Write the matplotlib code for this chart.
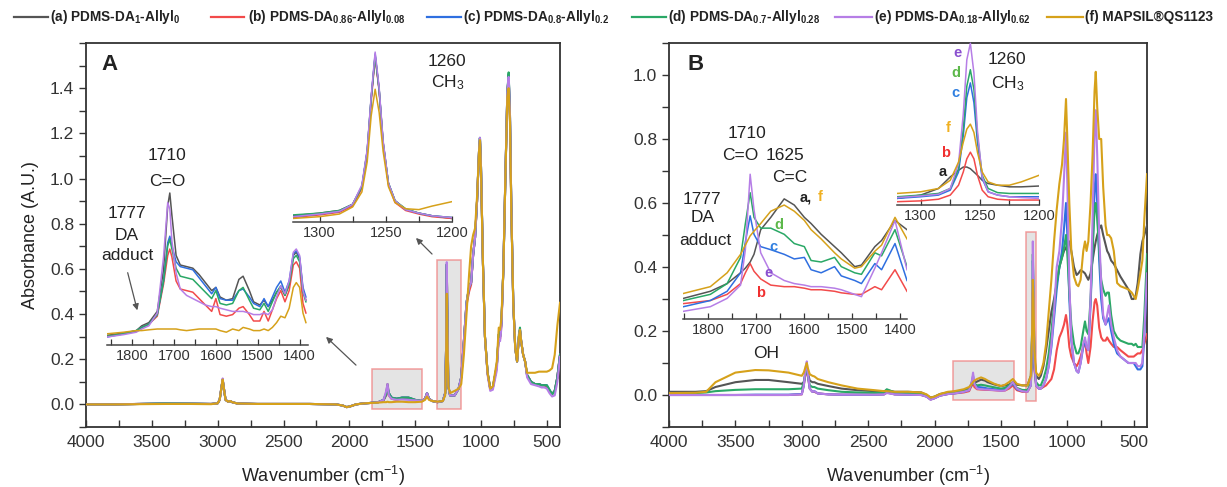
import matplotlib
matplotlib.use('Agg')
import matplotlib.pyplot as plt
from matplotlib.lines import Line2D
from matplotlib.patches import Rectangle
from matplotlib.ticker import MultipleLocator

plt.rcParams['font.family'] = ['Liberation Sans', 'DejaVu Sans']
plt.rcParams['mathtext.fontset'] = 'custom'
plt.rcParams['mathtext.rm'] = 'Liberation Sans'
plt.rcParams['mathtext.it'] = 'Liberation Sans:italic'
plt.rcParams['mathtext.bf'] = 'Liberation Sans:bold'

# ---------------- legend / series ----------------
series_labels = [r'(a) PDMS-DA$_\mathbf{1}$-Allyl$_\mathbf{0}$',
                 r'(b) PDMS-DA$_\mathbf{0.86}$-Allyl$_\mathbf{0.08}$',
                 r'(c) PDMS-DA$_\mathbf{0.8}$-Allyl$_\mathbf{0.2}$',
                 r'(d) PDMS-DA$_\mathbf{0.7}$-Allyl$_\mathbf{0.28}$',
                 r'(e) PDMS-DA$_\mathbf{0.18}$-Allyl$_\mathbf{0.62}$',
                 r'(f) MAPSIL®QS1123']
series_colors = ['#555555', '#f24a4a', '#2f6fe0', '#2aa866', '#b67ee6', '#d6a11a']

xticks_main = [4000, 3500, 3000, 2500, 2000, 1500, 1000, 500]

# ---------------- Panel A main spectra ----------------
A_wn = [4000, 3800, 3600, 3400, 3200, 3050, 3000, 2985, 2970, 2962, 2955, 2940, 2920, 2905, 2890,
        2850, 2700, 2500, 2300, 2100, 2050, 2020, 1990, 1950, 1900, 1850, 1780, 1740, 1720, 1710,
        1700, 1680, 1640, 1600, 1550, 1500, 1450, 1425, 1410, 1395, 1370, 1330, 1290, 1272, 1265,
        1260, 1255, 1248, 1235, 1200, 1170, 1150, 1130, 1110, 1090, 1075, 1060, 1045, 1030, 1015,
        1008, 1000, 985, 970, 950, 930, 910, 880, 865, 855, 845, 830, 815, 800, 790,
        780, 770, 755, 740, 726, 712, 704, 695, 680, 665, 650, 620, 590, 560, 540,
        520, 500, 480, 460, 440, 420, 400]
A_a = [0.0, 0.0, 0.002, 0.004, 0.003, 0.002, 0.005, 0.02, 0.08, 0.11, 0.08, 0.02, 0.012, 0.015, 0.01,
       0.004, 0.002, 0.002, 0.002, 0.0, -0.005, -0.012, -0.008, 0.0, 0.004, 0.006, 0.01, 0.02, 0.05, 0.09,
       0.05, 0.03, 0.025, 0.03, 0.03, 0.02, 0.015, 0.025, 0.05, 0.025, 0.015, 0.01, 0.015, 0.05, 0.25,
       0.62, 0.35, 0.08, 0.04, 0.04, 0.07, 0.12, 0.28, 0.45, 0.52, 0.54, 0.66, 0.74, 0.90, 1.12,
       1.18, 1.05, 0.62, 0.30, 0.14, 0.07, 0.075, 0.17, 0.31, 0.30, 0.36, 0.60, 1.0, 1.38, 1.46,
       1.28, 0.88, 0.45, 0.25, 0.19, 0.30, 0.33, 0.28, 0.22, 0.19, 0.13, 0.10, 0.09, 0.09, 0.085,
       0.085, 0.08, 0.06, 0.045, 0.06, 0.12, 0.22]
A_b = [0.0, 0.0, 0.002, 0.003, 0.003, 0.002, 0.005, 0.02, 0.08, 0.11, 0.08, 0.02, 0.012, 0.015, 0.01,
       0.004, 0.002, 0.002, 0.002, 0.0, -0.005, -0.012, -0.008, 0.0, 0.004, 0.006, 0.01, 0.018, 0.04, 0.07,
       0.04, 0.025, 0.02, 0.028, 0.025, 0.018, 0.015, 0.025, 0.05, 0.025, 0.015, 0.01, 0.015, 0.05, 0.25,
       0.61, 0.35, 0.08, 0.04, 0.04, 0.07, 0.12, 0.28, 0.44, 0.50, 0.53, 0.66, 0.74, 0.90, 1.12,
       1.17, 1.04, 0.62, 0.30, 0.14, 0.07, 0.075, 0.17, 0.30, 0.29, 0.35, 0.60, 1.0, 1.38, 1.45,
       1.27, 0.88, 0.45, 0.25, 0.19, 0.30, 0.33, 0.28, 0.22, 0.19, 0.13, 0.10, 0.09, 0.09, 0.085,
       0.085, 0.08, 0.06, 0.045, 0.06, 0.12, 0.22]
A_c = [0.0, 0.0, 0.002, 0.004, 0.003, 0.002, 0.005, 0.02, 0.08, 0.11, 0.08, 0.02, 0.012, 0.015, 0.01,
       0.004, 0.002, 0.002, 0.002, 0.0, -0.005, -0.012, -0.008, 0.0, 0.004, 0.006, 0.01, 0.02, 0.045, 0.075,
       0.05, 0.03, 0.025, 0.03, 0.03, 0.02, 0.015, 0.025, 0.05, 0.025, 0.015, 0.01, 0.015, 0.05, 0.25,
       0.62, 0.35, 0.08, 0.04, 0.04, 0.07, 0.12, 0.28, 0.45, 0.52, 0.54, 0.66, 0.74, 0.90, 1.12,
       1.18, 1.05, 0.62, 0.30, 0.14, 0.07, 0.075, 0.17, 0.31, 0.30, 0.36, 0.60, 1.0, 1.38, 1.46,
       1.28, 0.88, 0.45, 0.25, 0.19, 0.30, 0.33, 0.28, 0.22, 0.19, 0.13, 0.10, 0.09, 0.09, 0.085,
       0.085, 0.085, 0.065, 0.045, 0.06, 0.12, 0.22]
A_d = [0.0, 0.0, 0.002, 0.005, 0.004, 0.002, 0.005, 0.02, 0.08, 0.11, 0.08, 0.02, 0.012, 0.015, 0.01,
       0.004, 0.002, 0.002, 0.002, 0.0, -0.005, -0.012, -0.008, 0.0, 0.004, 0.006, 0.01, 0.02, 0.045, 0.075,
       0.05, 0.03, 0.025, 0.03, 0.03, 0.02, 0.015, 0.025, 0.05, 0.025, 0.015, 0.01, 0.015, 0.05, 0.25,
       0.62, 0.35, 0.08, 0.04, 0.04, 0.07, 0.12, 0.28, 0.45, 0.52, 0.54, 0.66, 0.74, 0.90, 1.12,
       1.18, 1.05, 0.62, 0.30, 0.14, 0.07, 0.075, 0.17, 0.31, 0.30, 0.36, 0.60, 1.0, 1.38, 1.47,
       1.28, 0.88, 0.45, 0.25, 0.19, 0.31, 0.34, 0.28, 0.22, 0.19, 0.13, 0.10, 0.09, 0.09, 0.085,
       0.085, 0.085, 0.065, 0.045, 0.06, 0.12, 0.22]
A_e = [0.0, 0.0, 0.002, 0.003, 0.003, 0.002, 0.005, 0.02, 0.08, 0.115, 0.08, 0.02, 0.012, 0.015, 0.01,
       0.004, 0.002, 0.002, 0.002, 0.0, -0.005, -0.012, -0.008, 0.0, 0.004, 0.006, 0.01, 0.02, 0.06, 0.09,
       0.04, 0.025, 0.02, 0.022, 0.02, 0.018, 0.015, 0.025, 0.05, 0.025, 0.015, 0.01, 0.015, 0.05, 0.25,
       0.63, 0.35, 0.08, 0.04, 0.04, 0.07, 0.12, 0.28, 0.45, 0.52, 0.54, 0.66, 0.74, 0.90, 1.12,
       1.18, 1.05, 0.62, 0.30, 0.13, 0.06, 0.065, 0.15, 0.29, 0.28, 0.34, 0.60, 1.0, 1.38, 1.45,
       1.28, 0.88, 0.45, 0.25, 0.19, 0.30, 0.33, 0.28, 0.22, 0.19, 0.12, 0.09, 0.085, 0.08, 0.075,
       0.075, 0.07, 0.05, 0.035, 0.04, 0.10, 0.21]
A_f = [0.0, 0.0, 0.001, 0.002, 0.002, 0.001, 0.005, 0.02, 0.08, 0.11, 0.08, 0.02, 0.012, 0.015, 0.01,
       0.004, 0.002, 0.002, 0.002, 0.0, -0.005, -0.012, -0.008, 0.0, 0.004, 0.006, 0.008, 0.01, 0.01, 0.012,
       0.01, 0.01, 0.012, 0.012, 0.01, 0.01, 0.012, 0.02, 0.035, 0.02, 0.015, 0.012, 0.015, 0.04, 0.2,
       0.49, 0.28, 0.08, 0.05, 0.06, 0.07, 0.09, 0.22, 0.40, 0.58, 0.70, 0.75, 0.78, 0.92, 1.12,
       1.17, 1.03, 0.62, 0.30, 0.14, 0.07, 0.08, 0.19, 0.34, 0.33, 0.38, 0.60, 1.0, 1.36, 1.40,
       1.25, 0.86, 0.45, 0.25, 0.19, 0.30, 0.33, 0.28, 0.22, 0.19, 0.14, 0.14, 0.14, 0.145, 0.145,
       0.145, 0.145, 0.15, 0.16, 0.22, 0.35, 0.45]

# ---------------- Panel B main spectra ----------------
B_wn = [4000, 3800, 3720, 3650, 3500, 3350, 3250, 3100, 3000, 2985, 2970, 2962, 2955, 2940, 2920,
        2905, 2880, 2800, 2700, 2580, 2450, 2380, 2360, 2300, 2200, 2100, 2060, 2030, 2000, 1960,
        1900, 1850, 1780, 1740, 1720, 1710, 1700, 1680, 1650, 1620, 1600, 1550, 1500, 1470, 1440,
        1410, 1380, 1340, 1300, 1275, 1265, 1260, 1255, 1248, 1235, 1215, 1200, 1180, 1160, 1140,
        1120, 1100, 1080, 1060, 1040, 1025, 1010, 1000, 985, 970, 950, 930, 917, 900, 880,
        867, 855, 842, 825, 810, 795, 786, 775, 760, 745, 730, 712, 700, 687, 670,
        650, 625, 600, 570, 540, 515, 500, 485, 470, 450, 435, 420, 400]
B_a = [0.01, 0.01, 0.012, 0.025, 0.04, 0.047, 0.047, 0.04, 0.035, 0.04, 0.07, 0.09, 0.07, 0.045, 0.04,
       0.04, 0.035, 0.028, 0.02, 0.015, 0.012, 0.012, 0.015, 0.01, 0.01, 0.008, 0.0, -0.008, -0.005, 0.003,
       0.008, 0.01, 0.015, 0.02, 0.03, 0.035, 0.038, 0.042, 0.048, 0.045, 0.04, 0.033, 0.028, 0.03, 0.032,
       0.04, 0.032, 0.03, 0.03, 0.06, 0.18, 0.29, 0.25, 0.12, 0.06, 0.05, 0.06, 0.09, 0.14, 0.20,
       0.26, 0.30, 0.35, 0.40, 0.43, 0.45, 0.46, 0.47, 0.48, 0.45, 0.40, 0.375, 0.38, 0.39, 0.385,
       0.38, 0.37, 0.36, 0.38, 0.42, 0.46, 0.48, 0.50, 0.52, 0.53, 0.50, 0.47, 0.45, 0.44, 0.42,
       0.41, 0.39, 0.37, 0.35, 0.33, 0.30, 0.30, 0.31, 0.35, 0.44, 0.48, 0.50, 0.53]
B_b = [0.0, 0.0, 0.0, 0.0, 0.0, 0.0, 0.0, 0.0, 0.002, 0.03, 0.07, 0.085, 0.06, 0.02, 0.01,
       0.01, 0.005, 0.002, 0.001, 0.001, 0.001, 0.002, 0.008, 0.002, 0.001, 0.0, -0.005, -0.014, -0.01, -0.002,
       0.003, 0.005, 0.008, 0.012, 0.03, 0.04, 0.025, 0.018, 0.017, 0.016, 0.016, 0.015, 0.013, 0.014, 0.02,
       0.03, 0.015, 0.01, 0.01, 0.03, 0.14, 0.32, 0.24, 0.08, 0.03, 0.02, 0.02, 0.025, 0.03, 0.04,
       0.05, 0.08, 0.14, 0.18, 0.20, 0.22, 0.25, 0.22, 0.15, 0.12, 0.10, 0.09, 0.10, 0.12, 0.15,
       0.17, 0.13, 0.10, 0.15, 0.23, 0.29, 0.30, 0.28, 0.21, 0.18, 0.17, 0.17, 0.18, 0.17, 0.16,
       0.15, 0.15, 0.14, 0.13, 0.12, 0.12, 0.12, 0.125, 0.13, 0.13, 0.14, 0.16, 0.19]
B_c = [0.0, 0.0, 0.0, 0.0, 0.0, 0.001, 0.001, 0.001, 0.003, 0.03, 0.08, 0.09, 0.065, 0.02, 0.01,
       0.012, 0.005, 0.002, 0.001, 0.001, 0.001, 0.002, 0.008, 0.002, 0.001, 0.0, -0.005, -0.014, -0.01, -0.002,
       0.003, 0.005, 0.01, 0.015, 0.04, 0.06, 0.035, 0.025, 0.024, 0.022, 0.02, 0.018, 0.015, 0.016, 0.025,
       0.035, 0.018, 0.012, 0.012, 0.03, 0.18, 0.42, 0.32, 0.09, 0.03, 0.02, 0.02, 0.03, 0.05, 0.09,
       0.15, 0.24, 0.33, 0.40, 0.45, 0.52, 0.60, 0.50, 0.30, 0.17, 0.10, 0.075, 0.07, 0.10, 0.15,
       0.17, 0.15, 0.14, 0.28, 0.45, 0.64, 0.69, 0.60, 0.42, 0.30, 0.24, 0.22, 0.23, 0.24, 0.20,
       0.16, 0.13, 0.12, 0.11, 0.10, 0.10, 0.10, 0.09, 0.08, 0.08, 0.09, 0.18, 0.38]
B_d = [0.005, 0.006, 0.008, 0.012, 0.016, 0.018, 0.018, 0.018, 0.02, 0.04, 0.075, 0.085, 0.065, 0.03, 0.025,
       0.025, 0.02, 0.015, 0.01, 0.008, 0.007, 0.008, 0.018, 0.008, 0.006, 0.004, -0.002, -0.01, -0.006, 0.0,
       0.005, 0.008, 0.012, 0.018, 0.035, 0.05, 0.035, 0.03, 0.032, 0.03, 0.028, 0.024, 0.02, 0.022, 0.03,
       0.038, 0.022, 0.016, 0.015, 0.035, 0.20, 0.44, 0.33, 0.10, 0.04, 0.03, 0.03, 0.05, 0.08, 0.13,
       0.20, 0.28, 0.35, 0.40, 0.43, 0.46, 0.50, 0.44, 0.32, 0.22, 0.16, 0.13, 0.13, 0.15, 0.20,
       0.23, 0.20, 0.19, 0.30, 0.45, 0.58, 0.60, 0.55, 0.45, 0.36, 0.33, 0.31, 0.32, 0.32, 0.25,
       0.20, 0.18, 0.17, 0.165, 0.16, 0.16, 0.155, 0.16, 0.15, 0.15, 0.15, 0.25, 0.44]
B_e = [0.0, 0.0, 0.0, 0.0, 0.0, 0.0, 0.0, 0.0, 0.002, 0.03, 0.09, 0.105, 0.07, 0.02, 0.01,
       0.012, 0.005, 0.002, 0.001, 0.001, 0.001, 0.002, 0.006, 0.002, 0.001, 0.0, -0.005, -0.015, -0.01, -0.002,
       0.003, 0.005, 0.01, 0.015, 0.04, 0.07, 0.035, 0.02, 0.018, 0.017, 0.017, 0.015, 0.013, 0.014, 0.025,
       0.04, 0.02, 0.012, 0.01, 0.03, 0.20, 0.48, 0.35, 0.10, 0.03, 0.02, 0.02, 0.03, 0.05, 0.09,
       0.16, 0.26, 0.40, 0.45, 0.55, 0.68, 0.82, 0.66, 0.35, 0.18, 0.10, 0.075, 0.07, 0.10, 0.16,
       0.18, 0.15, 0.14, 0.30, 0.55, 0.82, 0.89, 0.75, 0.50, 0.35, 0.25, 0.22, 0.25, 0.28, 0.22,
       0.18, 0.14, 0.12, 0.11, 0.10, 0.10, 0.10, 0.10, 0.09, 0.09, 0.10, 0.20, 0.38]
B_f = [0.006, 0.007, 0.01, 0.04, 0.07, 0.078, 0.077, 0.07, 0.06, 0.07, 0.09, 0.10, 0.085, 0.065, 0.06,
       0.058, 0.05, 0.04, 0.03, 0.02, 0.015, 0.012, 0.012, 0.01, 0.01, 0.008, 0.002, -0.008, -0.005, 0.003,
       0.01, 0.012, 0.018, 0.025, 0.035, 0.04, 0.045, 0.05, 0.055, 0.05, 0.045, 0.035, 0.028, 0.032, 0.04,
       0.05, 0.035, 0.03, 0.03, 0.06, 0.20, 0.36, 0.30, 0.14, 0.07, 0.06, 0.07, 0.10, 0.16, 0.26,
       0.36, 0.48, 0.58, 0.66, 0.72, 0.80, 0.925, 0.80, 0.60, 0.45, 0.37, 0.345, 0.34, 0.36, 0.45,
       0.48, 0.45, 0.48, 0.60, 0.75, 0.95, 1.01, 0.90, 0.80, 0.80, 0.65, 0.53, 0.50, 0.50, 0.49,
       0.45, 0.35, 0.34, 0.335, 0.33, 0.32, 0.31, 0.30, 0.33, 0.38, 0.42, 0.55, 0.69]

# ---------------- Inset A1 (1860-1380, relative intensity) ----------------
A1_wn = [1860, 1820, 1790, 1777, 1760, 1740, 1725, 1715, 1710, 1705, 1695, 1685, 1670, 1655, 1640,
         1625, 1610, 1600, 1590, 1575, 1560, 1545, 1535, 1520, 1510, 1495, 1485, 1475, 1465, 1455,
         1445, 1435, 1425, 1415, 1408, 1400, 1392, 1385]
A1_a = [0.06, 0.075, 0.09, 0.12, 0.14, 0.21, 0.47, 0.87, 0.95, 0.81, 0.56, 0.50, 0.49, 0.48, 0.44,
        0.39, 0.34, 0.36, 0.30, 0.28, 0.29, 0.41, 0.43, 0.34, 0.27, 0.25, 0.28, 0.24, 0.28, 0.33,
        0.36, 0.31, 0.375, 0.56, 0.58, 0.54, 0.34, 0.28]
A1_b = [0.055, 0.07, 0.085, 0.11, 0.13, 0.18, 0.38, 0.56, 0.60, 0.55, 0.40, 0.35, 0.34, 0.33, 0.29,
        0.25, 0.21, 0.29, 0.19, 0.18, 0.19, 0.23, 0.24, 0.19, 0.15, 0.15, 0.21, 0.15, 0.22, 0.29,
        0.34, 0.27, 0.34, 0.50, 0.52, 0.48, 0.26, 0.20]
A1_c = [0.05, 0.07, 0.09, 0.11, 0.13, 0.19, 0.40, 0.64, 0.68, 0.62, 0.52, 0.49, 0.48, 0.47, 0.42,
        0.37, 0.32, 0.36, 0.29, 0.28, 0.28, 0.34, 0.35, 0.30, 0.26, 0.24, 0.29, 0.24, 0.30, 0.36,
        0.40, 0.33, 0.40, 0.57, 0.59, 0.55, 0.36, 0.30]
A1_d = [0.055, 0.07, 0.09, 0.11, 0.13, 0.19, 0.40, 0.62, 0.66, 0.60, 0.48, 0.43, 0.42, 0.41, 0.37,
        0.33, 0.29, 0.34, 0.26, 0.25, 0.26, 0.34, 0.36, 0.28, 0.23, 0.22, 0.26, 0.21, 0.27, 0.33,
        0.37, 0.31, 0.38, 0.54, 0.56, 0.52, 0.33, 0.27]
A1_e = [0.05, 0.065, 0.08, 0.10, 0.12, 0.20, 0.55, 0.89, 0.85, 0.65, 0.45, 0.35, 0.31, 0.29, 0.27,
        0.25, 0.24, 0.24, 0.23, 0.22, 0.21, 0.21, 0.21, 0.20, 0.19, 0.19, 0.20, 0.19, 0.22, 0.30,
        0.37, 0.32, 0.40, 0.58, 0.60, 0.56, 0.34, 0.28]
A1_f = [0.07, 0.08, 0.09, 0.09, 0.095, 0.10, 0.10, 0.10, 0.10, 0.10, 0.10, 0.095, 0.09, 0.095, 0.10,
        0.10, 0.10, 0.10, 0.09, 0.08, 0.10, 0.09, 0.11, 0.10, 0.09, 0.09, 0.10, 0.09, 0.11, 0.14,
        0.18, 0.17, 0.23, 0.36, 0.39, 0.36, 0.20, 0.14]

# ---------------- Inset A2 / B2 (1320-1200) ----------------
CH3_wn = [1320, 1300, 1285, 1275, 1268, 1264, 1261, 1258, 1255, 1252, 1248, 1243, 1235, 1225, 1215, 1200]
A2_a = [0.035, 0.05, 0.065, 0.10, 0.20, 0.40, 0.70, 0.94, 0.75, 0.45, 0.22, 0.12, 0.07, 0.05, 0.035, 0.02]
A2_b = [0.025, 0.04, 0.055, 0.09, 0.19, 0.38, 0.68, 0.93, 0.74, 0.44, 0.21, 0.11, 0.065, 0.045, 0.03, 0.02]
A2_c = [0.03, 0.045, 0.06, 0.10, 0.20, 0.40, 0.70, 0.95, 0.75, 0.45, 0.22, 0.12, 0.07, 0.05, 0.035, 0.025]
A2_d = [0.04, 0.05, 0.065, 0.10, 0.20, 0.40, 0.70, 0.94, 0.75, 0.45, 0.22, 0.12, 0.075, 0.05, 0.035, 0.025]
A2_e = [0.03, 0.045, 0.06, 0.10, 0.21, 0.41, 0.71, 0.96, 0.76, 0.46, 0.22, 0.12, 0.07, 0.05, 0.035, 0.025]
A2_f = [0.02, 0.03, 0.045, 0.085, 0.17, 0.34, 0.60, 0.75, 0.62, 0.40, 0.20, 0.11, 0.075, 0.07, 0.09, 0.115]

B2_a = [0.04, 0.06, 0.10, 0.17, 0.21, 0.23, 0.23, 0.22, 0.20, 0.18, 0.15, 0.13, 0.12, 0.11, 0.11, 0.115]
B2_b = [0.02, 0.025, 0.035, 0.06, 0.12, 0.20, 0.28, 0.32, 0.28, 0.18, 0.09, 0.05, 0.035, 0.03, 0.03, 0.03]
B2_c = [0.04, 0.05, 0.06, 0.09, 0.20, 0.42, 0.65, 0.74, 0.62, 0.38, 0.16, 0.08, 0.06, 0.05, 0.05, 0.05]
B2_d = [0.05, 0.06, 0.07, 0.10, 0.22, 0.46, 0.72, 0.82, 0.70, 0.42, 0.18, 0.10, 0.075, 0.07, 0.07, 0.07]
B2_e = [0.045, 0.055, 0.065, 0.10, 0.25, 0.55, 0.88, 0.98, 0.80, 0.45, 0.17, 0.08, 0.06, 0.05, 0.045, 0.04]
B2_f = [0.07, 0.08, 0.10, 0.15, 0.26, 0.38, 0.46, 0.49, 0.44, 0.32, 0.20, 0.14, 0.12, 0.12, 0.14, 0.18]

# ---------------- Inset B1 (1852-1385, relative intensity) ----------------
B1_wn = [1851, 1795, 1760, 1732, 1722, 1712, 1704, 1690, 1669, 1641, 1620, 1599, 1585, 1564, 1536,
         1522, 1494, 1480, 1452, 1438, 1410, 1385]
B1_a = [0.134, 0.18, 0.23, 0.30, 0.33, 0.37, 0.42, 0.58, 0.66, 0.78, 0.74, 0.66, 0.62, 0.55, 0.47,
        0.43, 0.34, 0.35, 0.47, 0.51, 0.64, 0.58]
B1_b = [0.10, 0.12, 0.16, 0.23, 0.30, 0.36, 0.31, 0.26, 0.22, 0.21, 0.21, 0.20, 0.19, 0.19, 0.18,
        0.17, 0.16, 0.16, 0.21, 0.19, 0.32, 0.18]
B1_c = [0.08, 0.12, 0.18, 0.30, 0.50, 0.67, 0.55, 0.47, 0.45, 0.42, 0.39, 0.40, 0.32, 0.30, 0.34,
        0.28, 0.25, 0.23, 0.36, 0.32, 0.49, 0.25]
B1_d = [0.12, 0.16, 0.23, 0.40, 0.62, 0.82, 0.66, 0.59, 0.59, 0.55, 0.49, 0.47, 0.38, 0.37, 0.40,
        0.34, 0.30, 0.29, 0.43, 0.41, 0.58, 0.34]
B1_e = [0.05, 0.08, 0.134, 0.22, 0.45, 0.94, 0.71, 0.43, 0.30, 0.25, 0.23, 0.22, 0.21, 0.21, 0.20,
        0.19, 0.16, 0.145, 0.33, 0.43, 0.64, 0.32]
B1_f = [0.166, 0.21, 0.30, 0.42, 0.48, 0.54, 0.57, 0.62, 0.70, 0.74, 0.70, 0.64, 0.58, 0.52, 0.43,
        0.39, 0.33, 0.34, 0.44, 0.48, 0.66, 0.52]

# ---------------- figure ----------------
W, H = 1227, 487
fig = plt.figure(figsize=(W / 100, H / 100), dpi=100)


def rect(x0, y0, x1, y1):
    return [x0 / W, 1 - y1 / H, (x1 - x0) / W, (y1 - y0) / H]


def P(x, y):
    return (x / W, 1 - y / H)


SPC = '#333333'


def style_main(ax, ylim, yticks):
    ax.set_xlim(4000, 400)
    ax.set_ylim(*ylim)
    ax.set_xticks(xticks_main)
    ax.xaxis.set_minor_locator(MultipleLocator(250))
    ax.set_yticks(yticks)
    ax.yaxis.set_minor_locator(MultipleLocator(0.1))
    ax.tick_params(axis='x', which='both', direction='in', length=5, width=1, labelsize=12.5, pad=6, colors=SPC)
    ax.tick_params(axis='y', which='both', direction='out', length=5, width=1, labelsize=12.5, colors=SPC)
    for s in ax.spines.values():
        s.set_linewidth(1.3)
        s.set_color(SPC)
    ax.set_xlabel('Wavenumber (cm$^{-1}$)', fontsize=13, labelpad=10, color='#222222')


def style_inset(ax, xlim, major, minor, ylim=(0, 1)):
    ax.set_xlim(*xlim)
    ax.set_ylim(*ylim)
    ax.patch.set_alpha(0)
    for k in ['top', 'left', 'right']:
        ax.spines[k].set_visible(False)
    ax.spines['bottom'].set_color('#444444')
    ax.spines['bottom'].set_linewidth(1.1)
    ax.set_yticks([])
    ax.xaxis.set_major_locator(MultipleLocator(major))
    ax.xaxis.set_minor_locator(MultipleLocator(minor))
    ax.tick_params(axis='x', which='both', direction='in', length=4, width=0.9, labelsize=10.5,
                   pad=3, colors='#333333')


# ---- Panel A ----
axA = fig.add_axes(rect(86, 43, 560, 427))
A_series = [A_a, A_b, A_c, A_d, A_e, A_f]
for ys, c in zip(A_series, series_colors):
    axA.plot(A_wn, ys, color=c, lw=1.5, zorder=3)
axA.add_patch(Rectangle((1827, -0.022), 1448 - 1827, 0.178, facecolor='#dcdcdc', edgecolor='#f08080',
                        lw=1.1, alpha=0.75, zorder=2))
axA.add_patch(Rectangle((1334, -0.022), 1152 - 1334, 0.662, facecolor='#dcdcdc', edgecolor='#f08080',
                        lw=1.1, alpha=0.75, zorder=2))
style_main(axA, (-0.1, 1.6), [0.0, 0.2, 0.4, 0.6, 0.8, 1.0, 1.2, 1.4])
axA.set_ylabel('Absorbance (A.U.)', fontsize=13, labelpad=8, color='#222222')

# ---- Panel B ----
axB = fig.add_axes(rect(669, 43, 1147, 427))
B_series = [B_a, B_b, B_c, B_d, B_e, B_f]
for ys, c in zip(B_series, series_colors):
    axB.plot(B_wn, ys, color=c, lw=1.5, zorder=3)
axB.add_patch(Rectangle((1861, -0.016), 1401 - 1861, 0.122, facecolor='#dcdcdc', edgecolor='#f08080',
                        lw=1.1, alpha=0.75, zorder=2))
axB.add_patch(Rectangle((1311, -0.02), 1236 - 1311, 0.53, facecolor='#dcdcdc', edgecolor='#f08080',
                        lw=1.1, alpha=0.75, zorder=2))
style_main(axB, (-0.1, 1.1), [0.0, 0.2, 0.4, 0.6, 0.8, 1.0])

# ---- Insets ----
iA1 = fig.add_axes(rect(107, 185, 308, 345))
for ys, c in zip([A1_a, A1_b, A1_c, A1_d, A1_e, A1_f], series_colors):
    iA1.plot(A1_wn, ys, color=c, lw=1.1)
style_inset(iA1, (1860, 1380), 100, 50)

iA2 = fig.add_axes(rect(293, 45, 452, 222))
for ys, c in zip([A2_a, A2_b, A2_c, A2_d, A2_e, A2_f], series_colors):
    iA2.plot(CH3_wn, ys, color=c, lw=1.1)
style_inset(iA2, (1320, 1200), 50, 25)

iB1 = fig.add_axes(rect(683, 165, 907, 319))
for ys, c in zip([B1_a, B1_b, B1_c, B1_d, B1_e, B1_f], series_colors):
    iB1.plot(B1_wn, ys, color=c, lw=1.1)
style_inset(iB1, (1852, 1385), 100, 50)

iB2 = fig.add_axes(rect(897, 40, 1039, 205))
for ys, c in zip([B2_a, B2_b, B2_c, B2_d, B2_e, B2_f], series_colors):
    iB2.plot(CH3_wn, ys, color=c, lw=1.1)
style_inset(iB2, (1320, 1200), 50, 25)

# ---- Annotations ----
TXT = '#222222'
def t(x, y, s, size=12.5, color=TXT, weight='normal', ha='center'):
    fig.text(*P(x, y), s, fontsize=size, color=color, weight=weight, ha=ha, va='center')

t(109, 65, 'A', size=16, weight='bold')
t(696, 65, 'B', size=16, weight='bold')

t(447, 61, '1260')
t(448, 83, 'CH$_3$')
t(167, 156, '1710')
t(167, 181, 'C=O')
t(127, 214, '1777')
t(127, 235, 'DA')
t(127, 255, 'adduct')

t(747, 133, '1710')
t(740, 156, 'C=O')
t(785, 156, '1625')
t(790, 177, 'C=C')
t(702, 199, '1777')
t(703, 218, 'DA')
t(705, 241, 'adduct')
t(1007, 60, '1260')
t(1008, 84, 'CH$_3$')
t(766, 353, 'OH')

LW = 10.5
t(806, 197, 'a,', size=LW, color='#222222', weight='bold')
t(820, 197, 'f', size=LW, color='#f0b020', weight='bold')
t(779, 225, 'd', size=LW, color='#5cb84a', weight='bold')
t(773, 247, 'c', size=LW, color='#2f7fe0', weight='bold')
t(769, 273, 'e', size=LW, color='#8a4fcf', weight='bold')
t(761, 293, 'b', size=LW, color='#f03030', weight='bold')

t(957, 53, 'e', size=LW, color='#8a4fcf', weight='bold')
t(956, 73, 'd', size=LW, color='#5cb84a', weight='bold')
t(955, 93, 'c', size=LW, color='#2f7fe0', weight='bold')
t(948, 128, 'f', size=LW, color='#f0b020', weight='bold')
t(946, 153, 'b', size=LW, color='#f03030', weight='bold')
t(943, 172, 'a', size=LW, color='#222222', weight='bold')

arrow_kw = dict(arrowstyle='-|>', color='#555555', lw=0.9, mutation_scale=9)
for (x0, y0, x1, y1) in [(127, 270, 138, 313), (358, 367, 324, 335), (434, 256, 414, 236),
                         (704, 267, 719, 282), (958, 352, 916, 300), (1028, 233, 1007, 217)]:
    axA.annotate('', xy=P(x1, y1), xytext=P(x0, y0), xycoords='figure fraction',
                 textcoords='figure fraction', arrowprops=arrow_kw)

# ---- Legend (manual, one row across the top) ----
leg_entries = [(14, 48, 50), (211, 244, 248), (427, 461, 463),
               (632, 666, 668), (835, 872, 874), (1047, 1083, 1085)]
for (lx0, lx1, tx), lab, c in zip(leg_entries, series_labels, series_colors):
    fig.add_artist(Line2D([lx0 / W, lx1 / W], [1 - 17 / H, 1 - 17 / H], color=c, lw=1.6,
                          transform=fig.transFigure))
    fig.text(tx / W, 1 - 17 / H, lab, fontsize=9.8, weight='bold', color='#222222',
             ha='left', va='center')

fig.savefig('out.png', dpi=100)
